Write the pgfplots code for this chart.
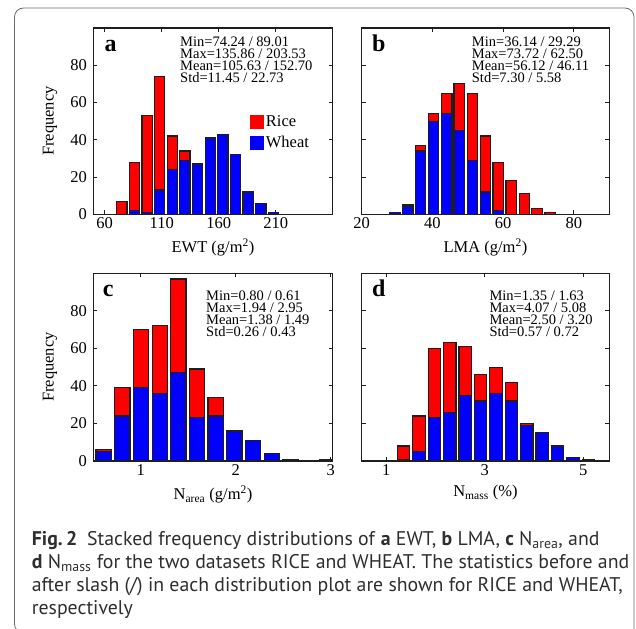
\documentclass[border=0pt]{standalone}
\usepackage{fontspec}
\setmainfont{Liberation Serif}
\newfontfamily\capfont{PT Sans}
\usepackage{pgfplots}
\pgfplotsset{compat=1.18}
\usepackage{pgfplotstable}

\definecolor{ricered}{HTML}{FF0000}
\definecolor{wheatblue}{HTML}{0000FF}
\definecolor{edge}{HTML}{1E1E1E}
\definecolor{framegray}{HTML}{6A6A6A}
\definecolor{captext}{HTML}{2E2E2E}

% bin centre, wheat count (bottom), rice count (stacked on top)
\pgfplotstableread{
x     w  r
63.9  0  0
75.0  0  7
86.1  2  26
97.2  1  52
108.2 13 61
119.3 24 18
130.4 29 5
141.5 27 0
152.6 41 0
163.6 43 0
174.7 32 0
185.8 12 0
196.9 6  0
208.0 1  0
}\tEWT
\pgfplotstableread{
x    w  r
29.3 1  0
33.0 4  1
36.6 34 3
40.3 50 4
44.0 54 11
47.6 45 25
51.3 29 36
55.0 12 30
58.6 2  26
62.3 0  18
66.0 0  11
69.6 0  3
73.3 0  1
}\tLMA
\pgfplotstableread{
x     w  r
0.609 5  1
0.806 24 15
1.002 39 31
1.199 36 36
1.395 47 50
1.592 23 26
1.788 24 10
1.985 16 0
2.181 11 0
2.378 4  0
2.574 1  0
2.771 0  0
2.967 1  0
}\tNarea
\pgfplotstableread{
x     w  r
1.350 1  7
1.663 5  19
1.976 23 37
2.289 26 37
2.602 35 26
2.915 32 14
3.228 36 14
3.541 32 10
3.854 19 1
4.167 15 0
4.480 8  0
4.793 2  0
5.106 1  0
}\tNmass

\pgfplotsset{
  hist/.style={
    scale only axis, anchor=south west,
    ybar stacked, ymin=0, ymax=100, ytick={0,20,40,60,80},
    tick align=inside, tick pos=both, major tick length=4pt,
    axis line style={edge, line width=1.1pt},
    major tick style={edge, line width=0.9pt},
    tick label style={font=\fontsize{16.5}{16.5}\selectfont},
    label style={font=\fontsize{16.5}{16.5}\selectfont},
    yticklabel style={xshift=-3pt},
    ylabel style={at={(rel axis cs:-0.181,0.5)}, anchor=center},
    xlabel style={yshift=-3pt},
    /pgf/number format/assume math mode=true,
    clip mode=individual,
    every axis plot/.append style={draw=edge, line width=1.2pt},
  },
}
\newcommand{\stats}[1]{\node[anchor=north west, inner sep=0pt, align=left,
  font=\fontsize{14.5}{12}\selectfont] #1;}

\begin{document}
\begin{tikzpicture}
\useasboundingbox (0pt,0pt) rectangle (636pt,-628pt);
\draw[framegray, line width=0.8pt, rounded corners=9pt]
  (40pt,-633pt) -- (14.5pt,-633pt) -- (14.5pt,-8pt) -- (634pt,-8pt) -- (634pt,-660pt);

% a
\begin{axis}[hist, at={(93.3pt,-214.3pt)}, width=239.4pt, height=186.3pt,
  xmin=50, xmax=260, xtick={60,110,160,210}, bar width=9,
  ylabel={Frequency}, xlabel={EWT (g/m\textsuperscript{2})},
  legend style={draw=none, fill=none, at={(0.64,0.55)}, anchor=north west,
    font=\fontsize{16.5}{16.5}\selectfont, row sep=4pt},
  legend cell align=left]
\addlegendimage{legend image code/.code={\fill[ricered] (0pt,-6.5pt) rectangle (13pt,6.5pt);}}
\addlegendentry{Rice}
\addlegendimage{legend image code/.code={\fill[wheatblue] (0pt,-6.5pt) rectangle (13pt,6.5pt);}}
\addlegendentry{Wheat}
\addplot[fill=wheatblue, forget plot] table[x=x, y=w] {\tEWT};
\addplot[fill=ricered, forget plot] table[x=x, y=r] {\tEWT};
\end{axis}

% b
\begin{axis}[hist, at={(361.7pt,-214.3pt)}, width=247.6pt, height=186.3pt,
  xmin=20, xmax=90, xtick={20,40,60,80}, yticklabels={}, bar width=3.0,
  xlabel={LMA (g/m\textsuperscript{2})}]
\addplot[fill=wheatblue] table[x=x, y=w] {\tLMA};
\addplot[fill=ricered] table[x=x, y=r] {\tLMA};
\end{axis}

% c
\begin{axis}[hist, at={(93.3pt,-461pt)}, width=239.4pt, height=187.7pt,
  xmin=0.5, xmax=3.02, xtick={1,2,3}, bar width=0.16,
  ylabel={Frequency}, xlabel={N\textsubscript{area} (g/m\textsuperscript{2})}]
\addplot[fill=wheatblue] table[x=x, y=w] {\tNarea};
\addplot[fill=ricered] table[x=x, y=r] {\tNarea};
\end{axis}

% d
\begin{axis}[hist, at={(361.7pt,-461pt)}, width=247.6pt, height=187.7pt,
  xmin=0.5, xmax=5.53, xtick={1,3,5}, yticklabels={}, bar width=0.25,
  xlabel={N\textsubscript{mass} (\%)}]
\addplot[fill=wheatblue] table[x=x, y=w] {\tNmass};
\addplot[fill=ricered] table[x=x, y=r] {\tNmass};
\end{axis}

% panel letters
\foreach \l/\px/\py in {a/110.7/51.7, b/378.8/51.7, c/108.3/296.7, d/378.8/296.7}
  \node[anchor=base, inner sep=0pt, font=\fontsize{24}{24}\selectfont\bfseries] at (\px pt,-\py pt) {\l};

% statistics (RICE / WHEAT)
\stats{at (180pt,-37pt) {Min=74.24 / 89.01\\Max=135.86 / 203.53\\Mean=105.63 / 152.70\\Std=11.45 / 22.73}}
\stats{at (471.7pt,-37pt) {Min=36.14 / 29.29\\Max=73.72 / 62.50\\Mean=56.12 / 46.11\\Std=7.30 / 5.58}}
\stats{at (206pt,-291pt) {Min=0.80 / 0.61\\Max=1.94 / 2.95\\Mean=1.38 / 1.49\\Std=0.26 / 0.43}}
\stats{at (489.3pt,-291pt) {Min=1.35 / 1.63\\Max=4.07 / 5.08\\Mean=2.50 / 3.20\\Std=0.57 / 0.72}}

% caption
\begin{scope}[every node/.style={anchor=base west, inner sep=0pt, text=captext,
    font=\capfont\fontsize{19.8}{23.3}\selectfont}]
\node at (31.7pt,-545pt) {\textbf{Fig.\,2}\enspace Stacked frequency distributions of \textbf{a} EWT, \textbf{b} LMA, \textbf{c} N\textsubscript{area}, and};
\node at (31.7pt,-568.3pt) {\textbf{d} N\textsubscript{mass} for the two datasets RICE and WHEAT. The statistics before and};
\node at (31.7pt,-591.6pt) {after slash (/) in each distribution plot are shown for RICE and WHEAT,};
\node at (31.7pt,-614.9pt) {respectively};
\end{scope}
\end{tikzpicture}
\end{document}
